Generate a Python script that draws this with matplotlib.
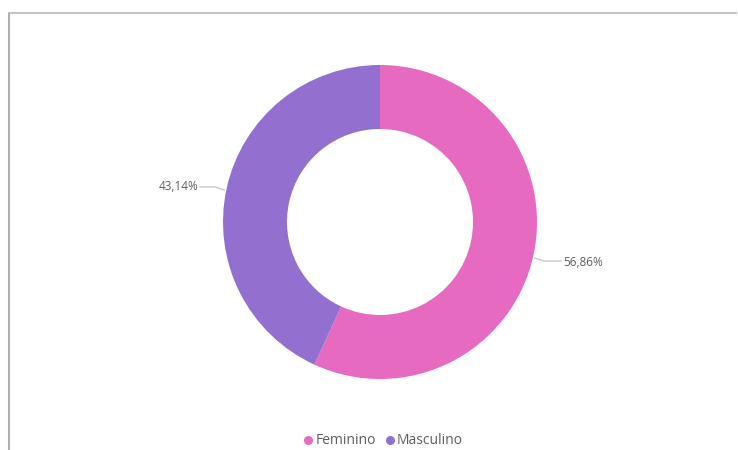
import matplotlib
matplotlib.use("Agg")
import matplotlib.pyplot as plt
from matplotlib.lines import Line2D
import numpy as np

# Distribuição por sexo
categorias = ["Feminino", "Masculino"]
percentuais = [56.86, 43.14]
cores = ["#E66AC0", "#9370CF"]

W, H = 738, 450
fig = plt.figure(figsize=(W / 100, H / 100), dpi=100)
ax = fig.add_axes([0, 0, 1, 1])

# donut em coordenadas de pixel (origem embaixo)
cx, cy, raio, espessura = 380, H - 222, 157, 64
wedges, _ = ax.pie(percentuais, colors=cores, startangle=90, counterclock=False,
                   center=(cx, cy), radius=raio,
                   wedgeprops=dict(width=espessura, edgecolor="none"))
ax.set_xlim(0, W)
ax.set_ylim(0, H)
ax.set_aspect("equal")
ax.axis("off")

# rótulos com linha guia (x do texto, y do texto, lado)
cor_texto = "#605E5C"
cor_guia = "#C8C8C8"
posicoes = {"Feminino": (563, H - 262, "left"), "Masculino": (198, H - 186, "right")}
for cat, pct in zip(categorias, percentuais):
    tx, ty, lado = posicoes[cat]
    sinal = 1 if lado == "left" else -1
    # ponto na borda externa na altura da linha guia
    yb = ty + 4 * sinal
    xb = cx + sinal * np.sqrt(raio ** 2 - (yb - cy) ** 2) + sinal * 2
    ax.plot([xb, xb + sinal * 9, tx - sinal * 2], [yb, ty + 1 * sinal, ty + 1 * sinal],
            color=cor_guia, lw=1)
    ax.text(tx, ty, f"{pct:.2f}%".replace(".", ","), ha=lado, va="center",
            fontsize=8.5, color=cor_texto, family="Open Sans")

# moldura (linha superior e lateral esquerda)
ax.plot([8, W - 1], [H - 13, H - 13], color="#C4C4C4", lw=1.5, solid_capstyle="butt")
ax.plot([9, 9], [0, H - 13], color="#B0B0B0", lw=1.5, solid_capstyle="butt")

handles = [Line2D([], [], ls="none", marker="o", markersize=5.5, color=c) for c in cores]
leg = fig.legend(handles, categorias, loc="center", bbox_to_anchor=(382 / W, 1 - 441 / H),
                 ncol=2, frameon=False, handletextpad=0.0, columnspacing=0.5,
                 handlelength=1.0, prop={"family": "Open Sans", "size": 10})
for t in leg.get_texts():
    t.set_color(cor_texto)

fig.savefig("out.png", dpi=100, facecolor="white")
